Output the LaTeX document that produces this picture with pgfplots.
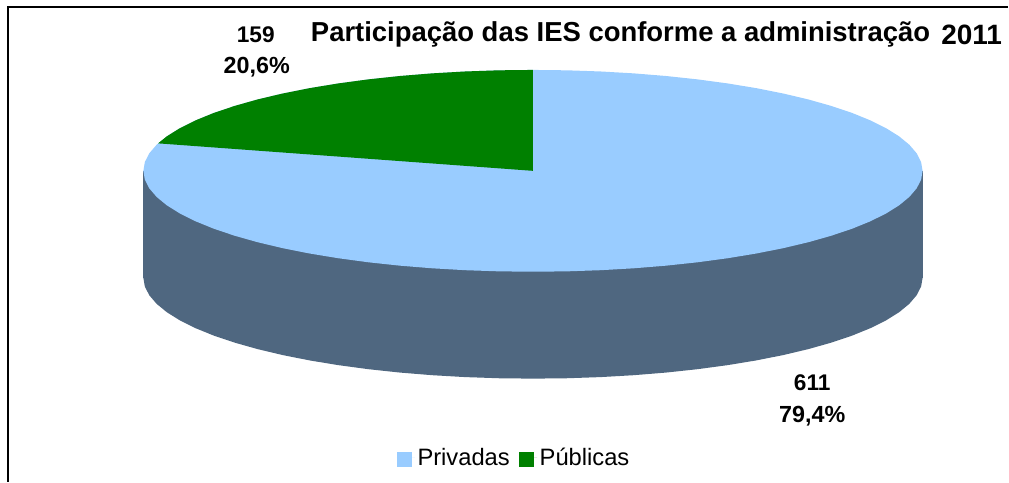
\documentclass[border=0pt]{standalone}
\usepackage{pgfplots}
\usepackage{pgfplotstable}
\usepackage{fontspec}
\setmainfont{Liberation Sans}
\pgfplotsset{compat=1.18}
% rim of the unit circle, every 5 degrees (c = cos, s = sin)
\pgfplotstableread{
c s
1.0000 0.0000
0.9962 0.0872
0.9848 0.1736
0.9659 0.2588
0.9397 0.3420
0.9063 0.4226
0.8660 0.5000
0.8192 0.5736
0.7660 0.6428
0.7071 0.7071
0.6428 0.7660
0.5736 0.8192
0.5000 0.8660
0.4226 0.9063
0.3420 0.9397
0.2588 0.9659
0.1736 0.9848
0.0872 0.9962
0.0000 1.0000
-0.0872 0.9962
-0.1736 0.9848
-0.2588 0.9659
-0.3420 0.9397
-0.4226 0.9063
-0.5000 0.8660
-0.5736 0.8192
-0.6428 0.7660
-0.7071 0.7071
-0.7660 0.6428
-0.8192 0.5736
-0.8660 0.5000
-0.9063 0.4226
-0.9397 0.3420
-0.9659 0.2588
-0.9848 0.1736
-0.9962 0.0872
-1.0000 0.0000
-0.9962 -0.0872
-0.9848 -0.1736
-0.9659 -0.2588
-0.9397 -0.3420
-0.9063 -0.4226
-0.8660 -0.5000
-0.8192 -0.5736
-0.7660 -0.6428
-0.7071 -0.7071
-0.6428 -0.7660
-0.5736 -0.8192
-0.5000 -0.8660
-0.4226 -0.9063
-0.3420 -0.9397
-0.2588 -0.9659
-0.1736 -0.9848
-0.0872 -0.9962
0.0000 -1.0000
0.0872 -0.9962
0.1736 -0.9848
0.2588 -0.9659
0.3420 -0.9397
0.4226 -0.9063
0.5000 -0.8660
0.5736 -0.8192
0.6428 -0.7660
0.7071 -0.7071
0.7660 -0.6428
0.8192 -0.5736
0.8660 -0.5000
0.9063 -0.4226
0.9397 -0.3420
0.9659 -0.2588
0.9848 -0.1736
0.9962 -0.0872
}\rimtable
% slice Publicas: 159 of 770 = 20.6 %, from 90 to 164.2 degrees
\pgfplotstableread{
c s
0.0000 0.0000
0.0000 1.0000
-0.0872 0.9962
-0.1736 0.9848
-0.2588 0.9659
-0.3420 0.9397
-0.4226 0.9063
-0.5000 0.8660
-0.5736 0.8192
-0.6428 0.7660
-0.7071 0.7071
-0.7660 0.6428
-0.8192 0.5736
-0.8660 0.5000
-0.9063 0.4226
-0.9397 0.3420
-0.9622 0.2723
}\publicas
\definecolor{priv}{HTML}{99CCFF}
\definecolor{publ}{HTML}{008000}
\definecolor{rim}{HTML}{4F6780}
\begin{document}
\begin{tikzpicture}
\begin{axis}[
  scale only axis, width=756.75pt, height=361.5pt,
  xmin=0, xmax=1009, ymin=0, ymax=482, y dir=reverse,
  hide axis, clip=false,
  legend columns=2,
  legend style={draw=none, fill=none, at={(axis cs:397,458)}, anchor=west,
    font=\fontsize{17.8}{20}\selectfont, inner sep=0pt,
    /tikz/every even column/.style={column sep=5pt}},
  legend image code/.code={\path (0cm,0cm) -- (13.5pt,0cm); \fill[#1] (0cm,-7.2pt) rectangle (11.25pt,4pt);},
]
\path (axis cs:0,0) rectangle (axis cs:1009,482);
\addplot[forget plot, fill=rim, draw=none] table[x expr=533.5+390*\thisrow{c}, y expr=278-101*\thisrow{s}] {\rimtable};
\addplot[forget plot, fill=rim, draw=none] coordinates {(143.5,171) (923.5,171) (923.5,278) (143.5,278)};
\addplot[fill=priv, draw=none] table[x expr=533.5+390*\thisrow{c}, y expr=171-101*\thisrow{s}] {\rimtable};
\addlegendentry{Privadas}
\addplot[fill=publ, draw=none] table[x expr=533.5+390*\thisrow{c}, y expr=171-101*\thisrow{s}] {\publicas};
\addlegendentry{Públicas}
\addplot[forget plot, black, line width=1.5pt] coordinates {(8,482) (8,7) (1009,7)};
\node[anchor=base west, inner sep=0pt, font=\bfseries\fontsize{20.6}{24}\selectfont] at (axis cs:311,42) {Participação das IES conforme a administração};
\node[anchor=base west, inner sep=0pt, font=\bfseries\fontsize{21}{24}\selectfont] at (axis cs:942,45) {2011};
\node[anchor=base, inner sep=0pt, font=\bfseries\fontsize{17}{20}\selectfont] at (axis cs:256,43) {159};
\node[anchor=base, inner sep=0pt, font=\bfseries\fontsize{17.5}{20}\selectfont] at (axis cs:257,74) {20,6\%};
\node[anchor=base, inner sep=0pt, font=\bfseries\fontsize{17}{20}\selectfont] at (axis cs:813,391) {611};
\node[anchor=base, inner sep=0pt, font=\bfseries\fontsize{17.5}{20}\selectfont] at (axis cs:813,423) {79,4\%};
\end{axis}
\end{tikzpicture}
\end{document}
